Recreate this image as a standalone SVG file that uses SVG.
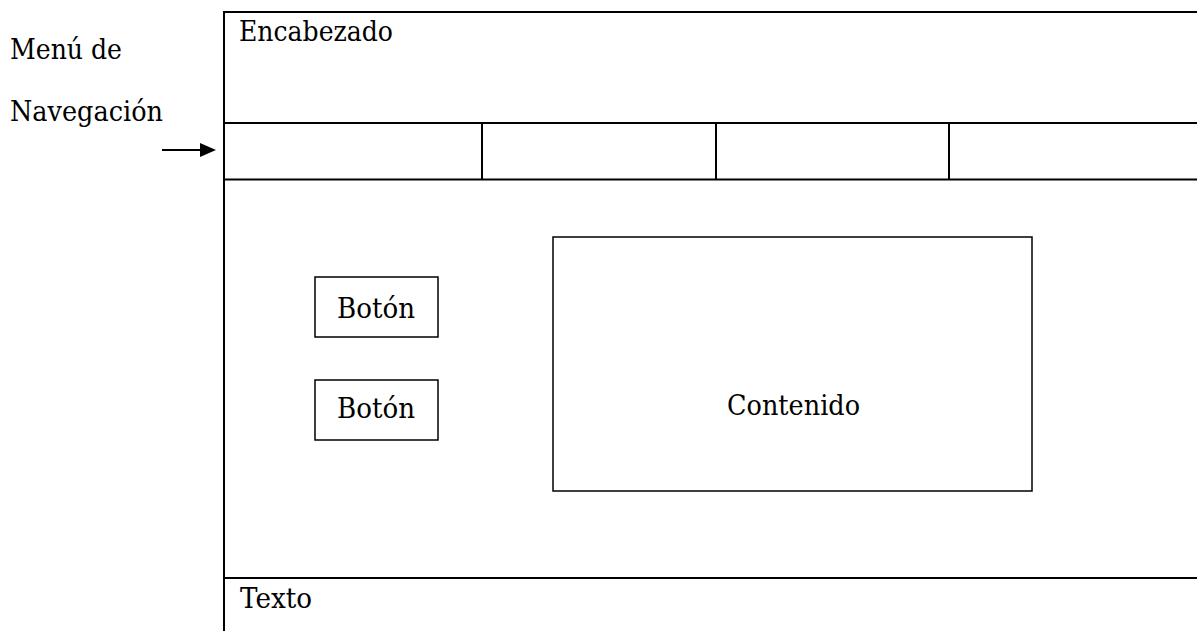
<svg xmlns="http://www.w3.org/2000/svg" width="1197" height="631" viewBox="0 0 1197 631">
<style>
.ln{stroke:#000;stroke-width:2;fill:none}
.bx{stroke:#000;stroke-width:1.5;fill:#fff}
.t{font-family:"DejaVu Serif",serif;font-size:28px;fill:#000}
</style>
<rect width="1197" height="631" fill="#fff"/>
<g id="frame">
<line class="ln" x1="224" y1="11" x2="224" y2="631"/>
<line class="ln" x1="223" y1="12" x2="1197" y2="12"/>
<line class="ln" x1="223" y1="123" x2="1197" y2="123"/>
<line class="ln" x1="223" y1="179.5" x2="1197" y2="179.5"/>
<line class="ln" x1="223" y1="578" x2="1197" y2="578"/>
<line class="ln" x1="482" y1="123" x2="482" y2="179"/>
<line class="ln" x1="716" y1="123" x2="716" y2="179"/>
<line class="ln" x1="949" y1="123" x2="949" y2="179"/>
</g>
<g id="header"><text class="t" x="239" y="41" textLength="154" lengthAdjust="spacingAndGlyphs">Encabezado</text></g>
<g id="menu-label">
<text class="t" x="10" y="59" textLength="112" lengthAdjust="spacingAndGlyphs">Menú de</text>
<text class="t" x="10" y="121" textLength="153" lengthAdjust="spacingAndGlyphs">Navegación</text>
</g>
<g id="boton1">
<rect class="bx" x="315" y="277" width="123" height="60"/>
<text class="t" x="337" y="318" textLength="78" lengthAdjust="spacingAndGlyphs">Botón</text>
</g>
<g id="boton2">
<rect class="bx" x="315" y="380" width="123" height="60"/>
<text class="t" x="337" y="418" textLength="78" lengthAdjust="spacingAndGlyphs">Botón</text>
</g>
<g id="contenido">
<rect class="bx" x="553" y="237" width="479" height="254"/>
<text class="t" x="727" y="415" textLength="133" lengthAdjust="spacingAndGlyphs">Contenido</text>
</g>
<g id="footer"><text class="t" x="240" y="608" textLength="72" lengthAdjust="spacingAndGlyphs">Texto</text></g>
<g id="connectors">
<line x1="162" y1="150" x2="202" y2="150" stroke="#000" stroke-width="2"/>
<polygon points="200,143 216,150 200,157" fill="#000"/>
</g>
</svg>
